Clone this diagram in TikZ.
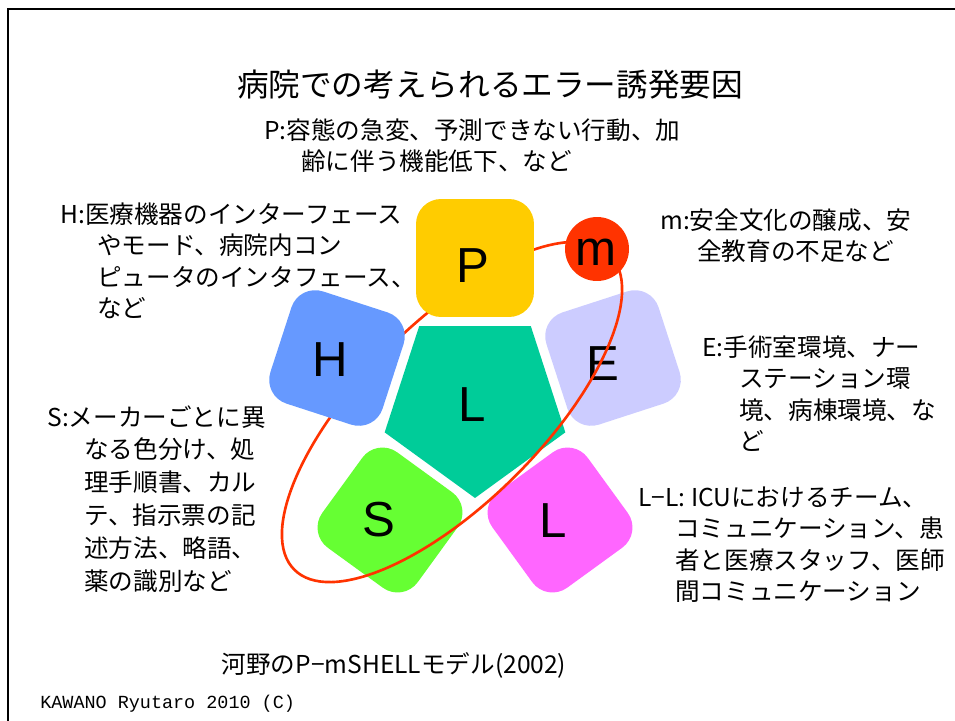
\documentclass[tikz,border=0pt]{standalone}
\usepackage{fontspec}
\setmainfont{Noto Sans CJK JP}
\newfontfamily\letterfont{Liberation Sans}
\newfontfamily\creditfont{Liberation Mono}
\usetikzlibrary{shapes.geometric}

\definecolor{pcol}{HTML}{FFCC00}
\definecolor{mcol}{HTML}{FF3300}
\definecolor{hcol}{HTML}{6699FF}
\definecolor{ecol}{HTML}{CCCCFF}
\definecolor{lcol}{HTML}{00CC99}
\definecolor{scol}{HTML}{66FF33}
\definecolor{llcol}{HTML}{FF66FF}

\tikzset{
  tile/.style={rectangle, rounded corners=0.5cm, minimum size=2.36cm, inner sep=0pt},
  tileletter/.style={inner sep=0pt, font=\letterfont\fontsize{28}{28}\selectfont},
  desc/.style={anchor=north west, align=left, inner sep=0pt, font=\fontsize{14}{18}\selectfont},
}

\begin{document}
\begin{tikzpicture}[x=0.02cm, y=-0.02cm]
    \useasboundingbox (0,0) rectangle (955,720);

    % cadre
    \draw[line width=1.7pt] (8,760) -- (8,9) -- (1000,9);

    % titre
    \node[font=\fontsize{18}{18}\selectfont] (title) at (490,85) {病院での考えられるエラー誘発要因};

    % tuiles du bas et du côté droit
    \node[tile, fill=ecol, rotate=18] (E) at (613,358) {};
    \node[tileletter] (Eltr) at (603,364) {E};
    \node[tile, fill=scol, rotate=-36] (S) at (390,520) {};
    \node[tileletter] (Sltr) at (379,520) {S};
    \node[tile, fill=llcol, rotate=36] (LL) at (560,520) {};
    \node[tileletter] (LLltr) at (553,521) {L};

    % pentagone central
    \node[regular polygon, regular polygon sides=5, shape border rotate=180,
          minimum size=3.8cm, inner sep=0pt, fill=lcol] (L) at (475,403) {};
    \node[tileletter] (Lltr) at (472,405) {L};

    % ellipse de la gestion
    \draw[mcol, line width=1.5pt, rotate around={45:(452,412)}] (452,412) ellipse (223 and 90);

    % tuiles du dessus
    \node[tile, fill=hcol, rotate=-18] (H) at (337,358) {};
    \node[tileletter] (Hltr) at (330,360) {H};
    \node[tile, fill=pcol] (P) at (475,258) {};
    \node[tileletter] (Pltr) at (473,266) {P};
    \node[circle, minimum size=1.28cm, inner sep=0pt, fill=mcol] (m) at (597,249) {};
    \node[tileletter] (mltr) at (596,252) {m};

    % descriptions
    \node[desc] (ptext) at (264,118) {P:容態の急変、予測できない行動、加\\
        \hspace*{1.5em}齢に伴う機能低下、など};
    \node[desc] (htext) at (60,202) {H:医療機器のインターフェース\\
        \hspace*{1.5em}やモード、病院内コン\\
        \hspace*{1.5em}ピュータのインタフェース、\\
        \hspace*{1.5em}など};
    \node[desc, font=\fontsize{14}{18.7}\selectfont] (stext) at (47,405) {S:メーカーごとに異\\
        \hspace*{1.5em}なる色分け、処\\
        \hspace*{1.5em}理手順書、カル\\
        \hspace*{1.5em}テ、指示票の記\\
        \hspace*{1.5em}述方法、略語、\\
        \hspace*{1.5em}薬の識別など};
    \node[desc] (mtext) at (660,208) {m:安全文化の醸成、安\\
        \hspace*{1.5em}全教育の不足など};
    \node[desc] (etext) at (702,335) {E:手術室環境、ナー\\
        \hspace*{1.5em}ステーション環\\
        \hspace*{1.5em}境、病棟環境、な\\
        \hspace*{1.5em}ど};
    \node[desc] (lltext) at (638,486) {L−L: ICUにおけるチーム、\\
        \hspace*{1.5em}コミュニケーション、患\\
        \hspace*{1.5em}者と医療スタッフ、医師\\
        \hspace*{1.5em}間コミュニケーション};

    % légende
    \node[font=\fontsize{14}{14}\selectfont] (caption) at (394,665) {河野のP−mSHELLモデル(2002)};
    \node[anchor=west, inner sep=0pt, font=\creditfont\fontsize{10.5}{10.5}\selectfont] (credit) at (40,704) {KAWANO Ryutaro 2010 (C)};

\end{tikzpicture}
\end{document}
